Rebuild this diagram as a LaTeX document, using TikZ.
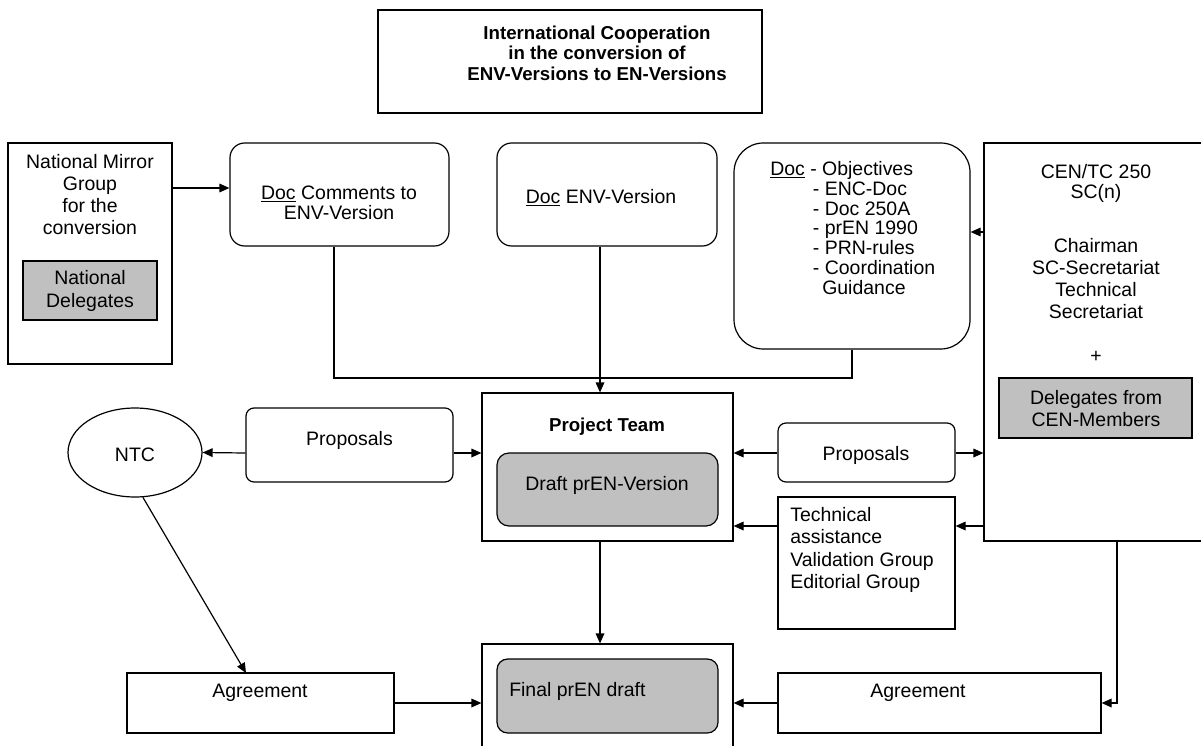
\documentclass[tikz,border=0pt]{standalone}
\usepackage{fontspec}
\setmainfont{Liberation Sans}
\usetikzlibrary{arrows.meta,fit,shapes.geometric}
\newcommand\fsz[2]{\fontsize{#1}{#2}\selectfont}
\definecolor{boxgray}{RGB}{192,192,192}
\begin{document}
\begin{tikzpicture}[x=0.75pt,y=-0.75pt,
  frame/.style={draw=black,line width=0.9pt,inner sep=0pt,fill=white},
  rframe/.style={frame,rounded corners=#1},
  shade/.style={frame,fill=boxgray},
  lbl/.style={inner sep=0pt,align=center,font=\fsz{14.6}{16.5}},
  arr/.style={line width=0.9pt,-{Triangle[length=7.5pt,width=6.5pt]}},
  wire/.style={line width=0.9pt}]
\useasboundingbox (0,0) rectangle (1201,745);

% ---- title ----
\node[frame,fit={(378,10) (762,113)}] (titlebox) {};
\node[lbl,font=\fsz{14}{15.5}\bfseries] (titletxt) at (597,53)
  {International Cooperation\\in the conversion of\\ENV-Versions to EN-Versions};

% ---- national mirror group ----
\node[frame,fit={(8,143) (172,364)}] (nmg) {};
\node[lbl] (nmgtxt) at (90,195) {National Mirror\\Group\\for the\\conversion};
\node[shade,fit={(23,261) (157,320)}] (natdel) {};
\node[lbl,font=\fsz{14.6}{17}] (natdeltxt) at (90,291) {National\\Delegates};

% ---- documents ----
\node[rframe=11pt,fit={(230,143) (449,246)}] (comm) {};
\node[lbl,font=\fsz{14.6}{15}] (commtxt) at (339,203) {\underline{Doc} Comments to\\ENV-Version};
\node[rframe=11pt,fit={(497,143) (717,246)}] (envv) {};
\node[lbl] (envvtxt) at (601,198) {\underline{Doc} ENV-Version};
\node[rframe=22pt,fit={(734,143) (970,349)}] (obj) {};
\node[lbl,align=left,anchor=west,font=\fsz{14.6}{14.9}] (objtxt) at (770,228)
  {\underline{Doc} - Objectives\\
   \hspace*{32pt}- ENC-Doc\\
   \hspace*{32pt}- Doc 250A\\
   \hspace*{32pt}- prEN 1990\\
   \hspace*{32pt}- PRN-rules\\
   \hspace*{32pt}- Coordination\\
   \hspace*{39pt}Guidance};

% ---- CEN/TC 250 ----
\node[frame,fit={(984,143) (1205,541)}] (cen) {};
\node[lbl,font=\fsz{14.6}{15}] (centxt) at (1096,183) {CEN/TC 250\\SC(n)};
\node[lbl] (censtaff) at (1096,279) {Chairman\\SC-Secretariat\\Technical\\Secretariat};
\node[lbl] (cenplus) at (1096,357) {+};
\node[shade,fit={(999,378) (1192,438)}] (cendel) {};
\node[lbl] (cendeltxt) at (1096,409) {Delegates from\\CEN-Members};

% ---- project team ----
\node[frame,fit={(482,393) (733,541)}] (pt) {};
\node[lbl,font=\fsz{14}{15.5}\bfseries] (pttxt) at (607,427) {Project Team};
\node[shade,rounded corners=9pt,fit={(497,453) (718,526)}] (draft) {};
\node[lbl] (drafttxt) at (607,485) {Draft prEN-Version};

% ---- NTC side ----
\node[draw=black,line width=0.9pt,ellipse,inner sep=0pt,
      minimum width=100.5pt,minimum height=66.75pt] (ntc) at (135,452.5) {};
\node[lbl] (ntctxt) at (135,455) {NTC};
\node[rframe=6pt,fit={(246,408) (453,482)}] (propl) {};
\node[lbl] (propltxt) at (349.5,440) {Proposals};

% ---- CEN side ----
\node[rframe=6pt,fit={(778,423) (955,482)}] (propr) {};
\node[lbl] (proprtxt) at (866,455) {Proposals};
\node[frame,fit={(778,497) (955,629)}] (tech) {};
\node[lbl,align=left,anchor=west,font=\fsz{14.6}{16.9}] (techtxt) at (790,550)
  {Technical\\assistance\\Validation Group\\Editorial Group};

% ---- final draft ----
\node[frame,fit={(482,644) (733,755)}] (fin) {};
\node[shade,rounded corners=8pt,fit={(497,659) (718,733)}] (final) {};
\node[lbl,anchor=west] (finaltxt) at (509,691) {Final prEN draft};
\node[frame,fit={(127,673) (394,733)}] (agrl) {};
\node[lbl] (agrltxt) at (260,693) {Agreement};
\node[frame,fit={(778,673) (1101,733)}] (agrr) {};
\node[lbl] (agrrtxt) at (918,693) {Agreement};

% ---- routing points ----
\coordinate (ya) at (0,188);
\coordinate (yb) at (0,232);
\coordinate (yp) at (0,453);
\coordinate (yt) at (0,526);
\coordinate (jl) at (334,378);
\coordinate (jr) at (852,378);
\coordinate (xm) at (600,0);
\coordinate (xc) at (1117,0);
\coordinate (agrtop) at (246,673);

% ---- connectors ----
\draw[arr] (nmg.east |- ya) -- (comm.west |- ya);
\draw[wire] (comm.south -| jl) -- (jl) -- (jr) -- (obj.south -| jr);
\draw[arr] (envv.south -| xm) -- (pt.north -| xm);
\draw[arr] (cen.west |- yb) -- (obj.east |- yb);
\draw[arr] (propl.west |- yp) -- (ntc.east);
\draw[arr] (propl.east |- yp) -- (pt.west |- yp);
\draw[arr] (propr.west |- yp) -- (pt.east |- yp);
\draw[arr] (propr.east |- yp) -- (cen.west |- yp);
\draw[arr] (cen.west |- yt) -- (tech.east |- yt);
\draw[arr] (tech.west |- yt) -- (pt.east |- yt);
\draw[arr] (pt.south -| xm) -- (fin.north -| xm);
\draw[arr] (ntc.-80) -- (agrtop);
\draw[arr] (agrl.east) -- (fin.west |- agrl.east);
\draw[arr] (agrr.west) -- (fin.east |- agrr.west);
\draw[arr] (cen.south -| xc) |- (agrr.east);
\end{tikzpicture}
\end{document}
